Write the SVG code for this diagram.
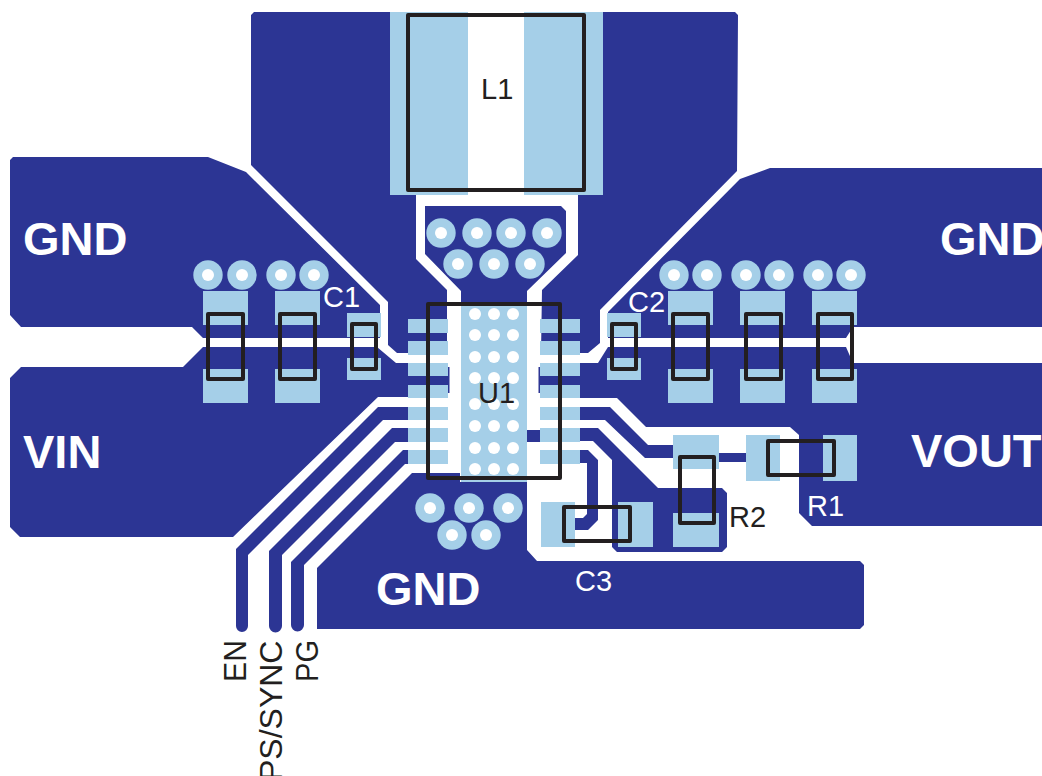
<svg xmlns="http://www.w3.org/2000/svg" width="1042" height="776" viewBox="0 0 1042 776">
<style>
.cu{fill:#2c3594}
.pad{fill:#a5cfe8}
.wh{fill:#fff}
.body{fill:none;stroke:#231f20;stroke-width:4;stroke-linejoin:round}
.t{font-family:"Liberation Sans",Arial,sans-serif;font-size:29px;fill:#231f20}
.r{font-family:"Liberation Sans",Arial,sans-serif;font-size:32px;fill:#231f20}
.tw{font-family:"Liberation Sans",Arial,sans-serif;font-size:29px;fill:#fff}
.net{font-family:"Liberation Sans",Arial,sans-serif;font-size:47px;font-weight:bold;fill:#fff}
</style>
<defs>
<g id="via"><circle r="14.7" class="pad"/><circle r="6" class="wh"/></g>
</defs>
<rect width="1042" height="776" fill="#fff"/>
<g id="copper">
<polygon class="cu" points="254,12 735,12 738,15 737,171 600,310 600,343 588,353 541,353 542,290 578,255 578,195 416,195 416,259 447,290 447,353 397,353 388,345 388,302 251,165 251,15"/>
<rect class="wh" x="468" y="0" width="56" height="195"/>
<polygon class="cu" points="425,206 561,206 566,211 566,253 527,291 527,305 461,305 461,291 425,254"/>
<polygon class="cu" points="13,157 208,157 246,172 380,305 380,338 203,338 192,327 21,327 10,315 10,160"/>
<polygon class="cu" points="1042,168 770,168 740,179 608,312 608,338 846,338 853,327 1042,327"/>
<polygon class="cu" points="10,378 21,367 183,367 203,347 377,347 396,363 408,363 408,397 378,397 233,537 20,537 10,527"/>
<polygon class="cu" points="1042,363 853,363 846,347 608,347 598,363 580,363 580,398 617,398 646,427 790,427 799,435 799,513 812,526 1042,526"/>
<rect class="cu" x="408" y="376" width="41" height="9"/>
<rect class="cu" x="540" y="376" width="40" height="9"/>
<rect class="cu" x="448" y="367" width="1.5" height="26"/>
<rect class="cu" x="538.5" y="367" width="1.5" height="26"/>
<polygon class="cu" points="412,473 460,473 460,482 527,482 527,550 537,561 860,561 864,565 864,625 860,629 317,629 317,568"/>
<polygon class="cu" points="580,407 610,407 648,445 674,445 674,458 645,458 605,420 580,420"/>
<rect class="cu" x="718" y="453" width="29" height="9"/>
<polygon class="cu" points="580,428 598,428 658,488 722,488 727,493 727,547 722,552 617,552 612,547 612,460 593,441 580,441"/>
<polygon class="cu" points="580,450 588,450 598,460 598,520 588,530 573,530 573,518 583,518 587,514 587,463 580,463"/>
<rect class="cu" x="527" y="430" width="13" height="12"/>
<path class="cu" d="M408,407H378L236,549V626A6,6 0 0 0 248,626V555L383,420H408Z"/>
<path class="cu" d="M408,428H392L269,551V626A6.500,6.500 0 0 0 282,626V555L395,442H408Z"/>
<path class="cu" d="M408,450H403L291,562V625A6.500,6.500 0 0 0 304,625V565L405,464H408Z"/>
</g>
<g id="pads">
<rect class="pad" x="390" y="12" width="78" height="183"/>
<rect class="pad" x="524" y="12" width="79" height="183"/>
<rect class="pad" x="461" y="303" width="66" height="179"/>
<g id="u1-pads-left">
<rect class="pad" x="408" y="319" width="40" height="14"/>
<rect class="pad" x="408" y="341" width="40" height="14"/>
<rect class="pad" x="408" y="363" width="40" height="13"/>
<rect class="pad" x="408" y="385" width="40" height="13"/>
<rect class="pad" x="408" y="407" width="40" height="13"/>
<rect class="pad" x="408" y="428" width="40" height="14"/>
<rect class="pad" x="408" y="450" width="40" height="14"/>
</g>
<g id="u1-pads-right">
<rect class="pad" x="540" y="319" width="40" height="14"/>
<rect class="pad" x="540" y="341" width="40" height="14"/>
<rect class="pad" x="540" y="363" width="40" height="13"/>
<rect class="pad" x="540" y="385" width="40" height="13"/>
<rect class="pad" x="540" y="407" width="40" height="13"/>
<rect class="pad" x="540" y="428" width="40" height="14"/>
<rect class="pad" x="540" y="450" width="40" height="14"/>
</g>
<rect class="pad" x="203" y="291" width="45" height="34"/>
<rect class="pad" x="203" y="369" width="45" height="34"/>
<rect class="pad" x="275" y="291" width="45" height="34"/>
<rect class="pad" x="275" y="369" width="45" height="34"/>
<rect class="pad" x="347" y="313" width="34" height="24"/>
<rect class="pad" x="347" y="358" width="34" height="22"/>
<rect class="pad" x="607" y="313" width="34" height="24"/>
<rect class="pad" x="607" y="358" width="34" height="22"/>
<rect class="pad" x="668" y="291" width="45" height="34"/>
<rect class="pad" x="668" y="369" width="45" height="34"/>
<rect class="pad" x="740" y="291" width="45" height="34"/>
<rect class="pad" x="740" y="369" width="45" height="34"/>
<rect class="pad" x="812" y="291" width="45" height="34"/>
<rect class="pad" x="812" y="369" width="45" height="34"/>
<rect class="pad" x="673" y="435" width="46" height="34"/>
<rect class="pad" x="673" y="513" width="46" height="34"/>
<rect class="pad" x="746" y="435" width="34" height="46"/>
<rect class="pad" x="823" y="435" width="34" height="46"/>
<rect class="pad" x="541" y="502" width="34" height="45"/>
<rect class="pad" x="618" y="502" width="35" height="45"/>
</g>
<g id="vias">
<use href="#via" x="441" y="233"/><use href="#via" x="477" y="233"/><use href="#via" x="511" y="233"/><use href="#via" x="547" y="233"/>
<use href="#via" x="458" y="264"/><use href="#via" x="494" y="264"/><use href="#via" x="530" y="264"/>
<use href="#via" x="430" y="508"/><use href="#via" x="469" y="508"/><use href="#via" x="508" y="508"/>
<use href="#via" x="452" y="535"/><use href="#via" x="486" y="535"/>
<use href="#via" x="208" y="275"/><use href="#via" x="242" y="275"/><use href="#via" x="281" y="275"/><use href="#via" x="314" y="275"/>
<use href="#via" x="674" y="275"/><use href="#via" x="707" y="275"/><use href="#via" x="746" y="275"/><use href="#via" x="779" y="275"/><use href="#via" x="818" y="275"/><use href="#via" x="851" y="275"/>
<g class="wh">
<circle cx="475" cy="314" r="6"/><circle cx="494" cy="314" r="6"/><circle cx="513" cy="314" r="6"/>
<circle cx="475" cy="335" r="6"/><circle cx="494" cy="335" r="6"/><circle cx="513" cy="335" r="6"/>
<circle cx="475" cy="357" r="6"/><circle cx="494" cy="357" r="6"/><circle cx="513" cy="357" r="6"/>
<circle cx="475" cy="378" r="6"/><circle cx="494" cy="378" r="6"/><circle cx="513" cy="378" r="6"/>
<circle cx="475" cy="404" r="6"/><circle cx="494" cy="404" r="6"/><circle cx="513" cy="404" r="6"/>
<circle cx="475" cy="426" r="6"/><circle cx="494" cy="426" r="6"/><circle cx="513" cy="426" r="6"/>
<circle cx="475" cy="448" r="6"/><circle cx="494" cy="448" r="6"/><circle cx="513" cy="448" r="6"/>
<circle cx="475" cy="469" r="6"/><circle cx="494" cy="469" r="6"/><circle cx="513" cy="469" r="6"/>
</g>
</g>
<g id="outlines">
<rect class="body" x="408" y="15" width="176" height="175"/>
<rect class="body" x="428" y="304" width="132" height="174"/>
<rect class="body" x="208" y="314" width="35" height="65"/>
<rect class="body" x="280" y="314" width="35" height="65"/>
<rect class="body" x="352" y="324" width="24" height="45"/>
<rect class="body" x="612" y="324" width="24" height="45"/>
<rect class="body" x="673" y="314" width="35" height="65"/>
<rect class="body" x="746" y="314" width="35" height="65"/>
<rect class="body" x="818" y="314" width="34" height="65"/>
<rect class="body" x="680" y="457" width="34" height="66"/>
<rect class="body" x="768" y="441" width="66" height="34"/>
<rect class="body" x="564" y="507" width="66" height="34"/>
</g>
<g id="labels">
<text class="t" x="481" y="99">L1</text>
<text class="t" x="478" y="403">U1</text>
<text class="t" x="729" y="527">R2</text>
<text class="tw" x="323" y="307">C1</text>
<text class="tw" x="628" y="312">C2</text>
<text class="tw" x="575" y="591">C3</text>
<text class="tw" x="807" y="516">R1</text>
<text class="net" x="23" y="255">GND</text>
<text class="net" x="940" y="255">GND</text>
<text class="net" x="23" y="468">VIN</text>
<text class="net" x="911" y="467">VOUT</text>
<text class="net" x="376" y="605">GND</text>
<text class="r" transform="translate(246,682) rotate(-90)" textLength="42" lengthAdjust="spacingAndGlyphs">EN</text>
<text class="r" transform="translate(282,781) rotate(-90)">PS/SYNC</text>
<text class="r" transform="translate(318,682) rotate(-90)" textLength="42" lengthAdjust="spacingAndGlyphs">PG</text>
</g>
</svg>
